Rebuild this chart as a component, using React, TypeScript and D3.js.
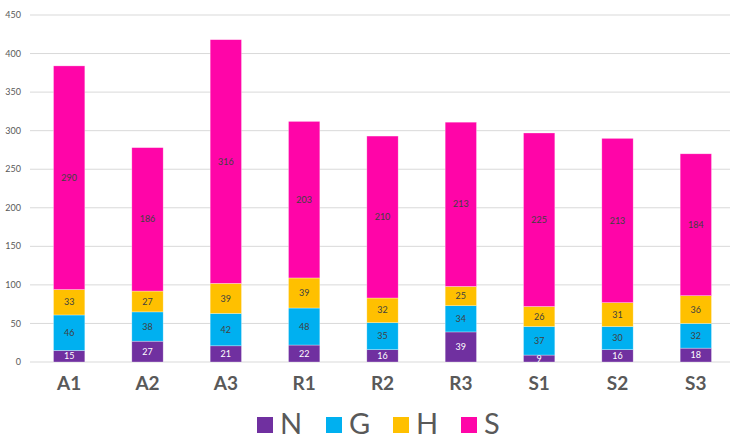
import React, { useEffect, useRef } from 'react';
import * as d3 from 'd3';

const categories = ['A1', 'A2', 'A3', 'R1', 'R2', 'R3', 'S1', 'S2', 'S3'];
const seriesKeys = ['N', 'G', 'H', 'S'];
const nValues = [15, 27, 21, 22, 16, 39, 9, 16, 18];
const gValues = [46, 38, 42, 48, 35, 34, 37, 30, 32];
const hValues = [33, 27, 39, 39, 32, 25, 26, 31, 36];
const sValues = [290, 186, 316, 203, 210, 213, 225, 213, 184];
const yTicks = [0, 50, 100, 150, 200, 250, 300, 350, 400, 450];
const colors = ['#7030A0', '#00B0F0', '#FFC000', '#FF05A8'];
const labelColors = ['#ffffff', '#404040', '#404040', '#404040'];

const App = () => {
  const ref = useRef(null);

  useEffect(() => {
    const width = 731;
    const height = 442;
    const margin = { top: 15, right: 1, bottom: 80, left: 30 };

    document.body.style.margin = '0';
    d3.select(ref.current).selectAll('*').remove();

    const svg = d3
      .select(ref.current)
      .append('svg')
      .attr('width', width)
      .attr('height', height)
      .style('display', 'block')
      .style('font-family', 'Lato, "Open Sans", sans-serif');

    const rows = categories.map((c, i) => ({
      cat: c,
      N: nValues[i],
      G: gValues[i],
      H: hValues[i],
      S: sValues[i],
    }));
    const stacked = d3.stack().keys(seriesKeys)(rows);

    // category slots run a bit past the right edge, like the original plot area
    const x = d3
      .scaleBand()
      .domain(categories)
      .range([margin.left, 735])
      .paddingInner(0.6)
      .paddingOuter(0.3);

    const y = d3
      .scaleLinear()
      .domain([0, 450])
      .range([height - margin.bottom, margin.top]);

    // gridlines + y labels
    svg
      .append('g')
      .selectAll('line')
      .data(yTicks)
      .enter()
      .append('line')
      .attr('x1', margin.left)
      .attr('x2', width - margin.right)
      .attr('y1', d => y(d))
      .attr('y2', d => y(d))
      .attr('stroke', '#d9d9d9')
      .attr('stroke-width', 1);

    svg
      .append('g')
      .selectAll('text')
      .data(yTicks)
      .enter()
      .append('text')
      .attr('x', 21)
      .attr('y', d => y(d))
      .attr('dy', '0.35em')
      .attr('text-anchor', 'end')
      .style('font-size', '9px')
      .style('fill', '#595959')
      .text(d => d);

    const layers = svg
      .selectAll('g.layer')
      .data(stacked)
      .enter()
      .append('g')
      .attr('class', 'layer');

    layers
      .selectAll('rect')
      .data((d, i) => d.map(p => ({ p, i })))
      .enter()
      .append('rect')
      .attr('x', d => x(d.p.data.cat))
      .attr('width', x.bandwidth())
      .attr('y', d => y(d.p[1]))
      .attr('height', d => y(d.p[0]) - y(d.p[1]))
      .attr('fill', d => colors[d.i])
      .attr('stroke', '#ffffff')
      .attr('stroke-opacity', 0.5)
      .attr('stroke-width', 0.6);

    layers
      .selectAll('text')
      .data((d, i) => d.map(p => ({ p, i })))
      .enter()
      .append('text')
      .attr('x', d => x(d.p.data.cat) + x.bandwidth() / 2)
      .attr('y', d => y((d.p[0] + d.p[1]) / 2))
      .attr('dy', '0.35em')
      .attr('text-anchor', 'middle')
      .style('font-size', '9px')
      .style('fill', d => labelColors[d.i])
      .text(d => d.p[1] - d.p[0]);

    // x labels
    svg
      .append('g')
      .selectAll('text')
      .data(categories)
      .enter()
      .append('text')
      .attr('x', d => x(d) + x.bandwidth() / 2)
      .attr('y', 390)
      .attr('text-anchor', 'middle')
      .style('font-size', '19px')
      .style('font-weight', 'bold')
      .style('fill', '#595959')
      .text(d => d);

    // legend
    const legendX = [257, 326, 393, 461];
    const legend = svg.append('g');
    seriesKeys.forEach((k, i) => {
      const g = legend.append('g').attr('transform', `translate(${legendX[i]}, 417)`);
      g.append('rect')
        .attr('width', 16)
        .attr('height', 16)
        .attr('fill', colors[i]);
      g.append('text')
        .attr('x', 23)
        .attr('y', 17)
        .style('font-size', '29px')
        .style('fill', '#595959')
        .text(k);
    });
  }, []);

  return <div ref={ref}></div>;
};

export default App;
